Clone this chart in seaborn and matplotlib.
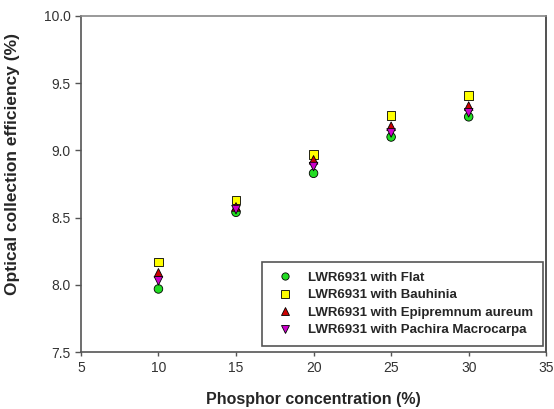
import pandas as pd
import matplotlib
matplotlib.use("Agg")
import matplotlib.pyplot as plt
import seaborn as sns

# values
concentration = [10, 15, 20, 25, 30]
flat = [7.97, 8.54, 8.83, 9.10, 9.25]
bauhinia = [8.17, 8.63, 8.97, 9.26, 9.41]
epipremnum = [8.09, 8.58, 8.93, 9.18, 9.33]
pachira = [8.03, 8.56, 8.88, 9.13, 9.28]

series_names = ["LWR6931 with Flat", "LWR6931 with Bauhinia",
                "LWR6931 with Epipremnum aureum", "LWR6931 with Pachira Macrocarpa"]
series_values = [flat, bauhinia, epipremnum, pachira]

rows = []
for name, vals in zip(series_names, series_values):
    for c, v in zip(concentration, vals):
        rows.append({"Phosphor": c, "Efficiency": v, "Series": name})
df = pd.DataFrame(rows)

sns.set_style("ticks")
plt.rcParams["font.family"] = ["Liberation Sans", "DejaVu Sans"]

colors = ["#22dd22", "#ffff00", "#cc0000", "#cc00cc"]
markers = ["o", "s", "^", "v"]

fig = plt.figure(figsize=(5.54, 4.09), dpi=100)
ax = fig.add_axes([0.146, 0.139, 0.84, 0.822])

sns.scatterplot(data=df, x="Phosphor", y="Efficiency", hue="Series", style="Series",
                hue_order=series_names, style_order=series_names,
                palette=colors, markers=markers, s=38, edgecolor="black",
                linewidth=0.6, ax=ax, zorder=3)

ax.set_xlim(5, 35)
ax.set_ylim(7.5, 10.0)
ax.set_xticks([5, 10, 15, 20, 25, 30, 35])
ax.set_yticks([7.5, 8.0, 8.5, 9.0, 9.5, 10.0])
ax.set_yticklabels(["7.5", "8.0", "8.5", "9.0", "9.5", "10.0"])
ax.tick_params(axis="both", labelsize=10, direction="out", length=4,
               width=1, color="#555555", labelcolor="#333333")
ax.tick_params(axis="x", length=3)

ax.set_xlabel("Phosphor concentration (%)", fontsize=11.5, fontweight="bold", labelpad=12)
ax.set_ylabel("Optical collection efficiency (%)", fontsize=12.5, fontweight="bold")
ax.yaxis.set_label_coords(-0.13, 0.56)

for sp in ["left", "bottom"]:
    ax.spines[sp].set_color("#555555")
    ax.spines[sp].set_linewidth(1.2)
ax.spines["top"].set_color("#888888")
ax.spines["top"].set_linewidth(1.2)
ax.spines["right"].set_color("#333333")
ax.spines["right"].set_linewidth(1.2)

leg = ax.legend(loc="lower right", frameon=True, fancybox=False,
                prop={"weight": "bold", "size": 9.5}, borderpad=0.75,
                labelspacing=0.4, handletextpad=0.75, borderaxespad=0,
                markerscale=0.85, bbox_to_anchor=(0.994, 0.018))
leg.get_frame().set_edgecolor("#555555")
leg.get_frame().set_linewidth(1.2)
leg.get_frame().set_alpha(1)

fig.savefig("out.png", dpi=100)
